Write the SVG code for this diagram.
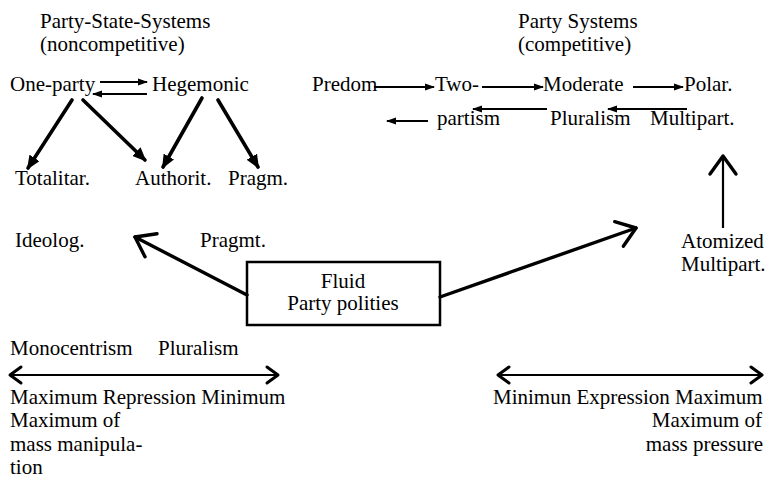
<svg xmlns="http://www.w3.org/2000/svg" width="774" height="482" viewBox="0 0 774 482">
<style>
text{font-family:'Liberation Serif','Times New Roman','DejaVu Serif',serif;font-size:21px;fill:#000}
.m{text-anchor:middle}
.e{text-anchor:end}
.thin{stroke:#000;stroke-width:2.2;fill:none}
.thick{stroke:#000;stroke-width:3.6;fill:none;stroke-linecap:round}
.big{stroke:#000;stroke-width:3.4;fill:none;stroke-linecap:round}
</style>
<defs>
<marker id="sh" markerUnits="userSpaceOnUse" viewBox="0 0 10 8" refX="9" refY="4" markerWidth="10" markerHeight="8" orient="auto"><path d="M0,0.5 L10,4 L0,7.5 z" fill="#000"/></marker>
<marker id="dh" markerUnits="userSpaceOnUse" viewBox="0 0 14 12" refX="12" refY="6" markerWidth="14" markerHeight="12" orient="auto"><path d="M0,0 L14,6 L0,12 z" fill="#000"/></marker>
<marker id="ch" markerUnits="userSpaceOnUse" viewBox="-2 -2 26 34" refX="20" refY="15" markerWidth="26" markerHeight="34" orient="auto"><path d="M2,2 L20,15 L2,28" fill="none" stroke="#000" stroke-width="3.4" stroke-linecap="round" stroke-linejoin="round"/></marker>
<marker id="cs" markerUnits="userSpaceOnUse" viewBox="-2 -2 18 22" refX="13" refY="9" markerWidth="18" markerHeight="22" orient="auto-start-reverse"><path d="M2,1 L13,9 L2,17" fill="none" stroke="#000" stroke-width="3" stroke-linecap="round" stroke-linejoin="round"/></marker>
</defs>

<g id="titles">
<text x="40" y="28">Party-State-Systems</text>
<text x="40" y="51">(noncompetitive)</text>
<text x="518" y="28">Party Systems</text>
<text x="518" y="51">(competitive)</text>
</g>

<g id="one-party"><text x="10" y="91">One-party</text></g>
<g id="hegemonic"><text x="152" y="91">Hegemonic</text></g>
<g id="totalitar"><text x="15" y="185">Totalitar.</text></g>
<g id="authorit"><text x="135" y="185">Authorit.</text></g>
<g id="pragm"><text x="228" y="185">Pragm.</text></g>

<g id="predom"><text x="312" y="91">Predom</text></g>
<g id="two"><text x="435" y="91">Two-</text></g>
<g id="moderate"><text x="543" y="91">Moderate</text></g>
<g id="polar"><text x="684" y="91">Polar.</text></g>
<g id="partism"><text x="437" y="125">partism</text></g>
<g id="pluralism-c"><text x="550" y="125">Pluralism</text></g>
<g id="multipart"><text x="650" y="125">Multipart.</text></g>

<g id="ideolog"><text x="15" y="247">Ideolog.</text></g>
<g id="pragmt"><text x="200" y="247">Pragmt.</text></g>
<g id="atomized"><text x="681" y="248">Atomized</text><text x="681" y="271">Multipart.</text></g>

<g id="fluid">
<rect x="247" y="262" width="193" height="63" fill="#fff" stroke="#000" stroke-width="2.5"/>
<text class="m" x="343" y="288">Fluid</text>
<text class="m" x="343" y="310">Party polities</text>
</g>

<g id="left-scale">
<text x="10" y="355">Monocentrism</text>
<text x="158" y="355">Pluralism</text>
<text x="10" y="404">Maximum Repression Minimum</text>
<text x="10" y="427">Maximum of</text>
<text x="10" y="451">mass manipula-</text>
<text x="10" y="474">tion</text>
</g>

<g id="right-scale">
<text x="493" y="404">Minimun Expression Maximum</text>
<text class="e" x="762" y="427">Maximum of</text>
<text class="e" x="763" y="451">mass pressure</text>
</g>

<g id="connectors">
<line class="thin" x1="100" y1="82" x2="147" y2="82" marker-end="url(#sh)"/>
<line class="thin" x1="147" y1="94" x2="93" y2="94" marker-end="url(#sh)"/>
<line class="thick" x1="72" y1="100" x2="28" y2="168" marker-end="url(#dh)"/>
<line class="thick" x1="83" y1="100" x2="145" y2="160" marker-end="url(#dh)"/>
<line class="thick" x1="202" y1="98" x2="163" y2="167" marker-end="url(#dh)"/>
<line class="thick" x1="218" y1="100" x2="258" y2="167" marker-end="url(#dh)"/>

<line class="thin" x1="374" y1="87" x2="434" y2="87" marker-end="url(#sh)"/>
<line class="thin" x1="482" y1="87" x2="543" y2="87" marker-end="url(#sh)"/>
<line class="thin" x1="633" y1="87" x2="683" y2="87" marker-end="url(#sh)"/>
<line class="thin" x1="547" y1="109" x2="473" y2="109" marker-end="url(#sh)"/>
<line class="thin" x1="687" y1="109" x2="608" y2="109" marker-end="url(#sh)"/>
<line class="thin" x1="428" y1="121" x2="387" y2="121" marker-end="url(#sh)"/>

<line class="thin" x1="723" y1="228" x2="723" y2="156" marker-end="url(#ch)"/>

<line class="big" x1="247" y1="295" x2="135" y2="237" marker-end="url(#ch)"/>
<line class="big" x1="440" y1="297" x2="636" y2="228" marker-end="url(#ch)"/>

<line class="thin" x1="10" y1="375" x2="278" y2="375" stroke-width="2.5" marker-start="url(#cs)" marker-end="url(#cs)"/>
<line class="thin" x1="498" y1="375" x2="762" y2="375" stroke-width="2.5" marker-start="url(#cs)" marker-end="url(#cs)"/>
</g>
</svg>
